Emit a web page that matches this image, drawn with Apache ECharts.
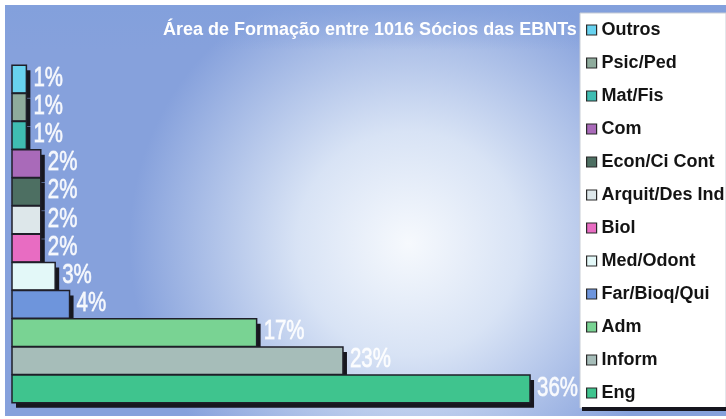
<!DOCTYPE html>
<html>
<head>
<meta charset="utf-8">
<script src="https://cdn.jsdelivr.net/npm/echarts@6/dist/echarts.min.js"></script>
<style>
  html, body { margin: 0; padding: 0; background: #ffffff; }
  #chart { width: 726px; height: 419px; }
</style>
</head>
<body>
<div id="chart"></div>
<script>
// Áreas de formação, de cima para baixo
const categories = ['Outros', 'Psic/Ped', 'Mat/Fis', 'Com', 'Econ/Ci Cont', 'Arquit/Des Ind',
  'Biol', 'Med/Odont', 'Far/Bioq/Qui', 'Adm', 'Inform', 'Eng'];
// Percentual de sócios em cada área
const values = [1, 1, 1, 2, 2, 2, 2, 3, 4, 17, 23, 36];
const colors = ['#68d2ef', '#8eab9c', '#3fbdb2', '#a96ab9', '#4d6f62', '#dde7ea',
  '#e86cc2', '#e3f8f8', '#6e95dc', '#79d393', '#a6bdb9', '#3fc48e'];
const titleText = 'Área de Formação entre 1016 Sócios das EBNTs';

const labelFont = "28px 'Liberation Sans', Arial, sans-serif";

const chart = echarts.init(document.getElementById('chart'), null, { renderer: 'canvas' });

// Each bar: a dark drop shadow, the outlined bar itself and its percentage label
function renderBar(params, api) {
  const v = api.value(0);
  const c = api.value(1);
  const start = api.coord([0, c]);
  const end = api.coord([v, c]);
  const h = api.size([0, 1])[1] * 0.98;
  const w = end[0] - start[0];
  const y = start[1] - h / 2;
  return {
    type: 'group',
    children: [
      {
        type: 'rect',
        shape: { x: start[0] + 4, y: y + 5, width: w, height: h },
        style: { fill: '#17171f' }
      },
      {
        type: 'rect',
        shape: { x: start[0], y: y, width: w, height: h },
        style: { fill: api.visual('color'), stroke: '#1f1f29', lineWidth: 1.5 }
      },
      {
        // condensed, medium-weight percentage label
        type: 'text',
        x: end[0] + 7,
        y: start[1] - 1,
        scaleX: 0.73,
        style: {
          text: v + '%',
          fill: 'rgba(255,255,255,0.9)',
          stroke: 'rgba(255,255,255,0.7)',
          lineWidth: 0.9,
          font: labelFont,
          verticalAlign: 'middle',
          align: 'left'
        }
      }
    ]
  };
}

const series = categories.map((name, i) => ({
  name: name,
  type: 'custom',
  renderItem: renderBar,
  itemStyle: { color: colors[i] },
  encode: { x: 0, y: 1 },
  data: [[values[i], i]],
  emphasis: { disabled: true }
}));

chart.setOption({
  animation: false,
  graphic: [
    {
      type: 'rect',
      z: -10,
      silent: true,
      shape: { x: 5, y: 5, width: 721, height: 411 },
      style: {
        fill: new echarts.graphic.RadialGradient(0.56, 0.58, 0.68, [
          { offset: 0, color: '#f6f9fd' },
          { offset: 0.4, color: '#d8e3f5' },
          { offset: 1, color: '#86a1dc' }
        ])
      }
    },
    {
      type: 'rect',
      z: -9,
      silent: true,
      shape: { x: 5, y: 5, width: 721, height: 45 },
      style: {
        fill: new echarts.graphic.LinearGradient(0, 0, 0, 1, [
          { offset: 0, color: 'rgba(130,160,220,0.8)' },
          { offset: 1, color: 'rgba(130,160,220,0)' }
        ])
      }
    },
    {
      type: 'rect',
      z: -5,
      silent: true,
      shape: { x: 580, y: 13, width: 146, height: 395 },
      style: { fill: '#ffffff', stroke: '#c8cdd6', lineWidth: 1 }
    },
    {
      type: 'rect',
      z: -5,
      silent: true,
      shape: { x: 582, y: 407, width: 144, height: 4 },
      style: { fill: '#16161e' }
    }
  ],
  title: {
    text: titleText,
    left: 163,
    top: 21,
    padding: 0,
    textStyle: {
      color: '#ffffff',
      fontFamily: "'Liberation Sans', Arial, sans-serif",
      fontWeight: 'bold',
      fontSize: 18
    }
  },
  legend: {
    orient: 'vertical',
    left: 586,
    top: 20,
    padding: 0,
    itemWidth: 10,
    itemHeight: 10,
    itemGap: 13,
    selectedMode: false,
    icon: 'rect',
    data: categories,
    itemStyle: { borderColor: '#2a2a2a', borderWidth: 1.2 },
    textStyle: {
      color: '#141414',
      fontFamily: "'Liberation Sans', Arial, sans-serif",
      fontWeight: 'bold',
      fontSize: 18,
      lineHeight: 20
    }
  },
  grid: { left: 12, top: 65, width: 575.6, height: 338 },
  xAxis: { type: 'value', min: 0, max: 40, show: false },
  yAxis: { type: 'category', data: categories, inverse: true, show: false },
  series: series
});
</script>
</body>
</html>
